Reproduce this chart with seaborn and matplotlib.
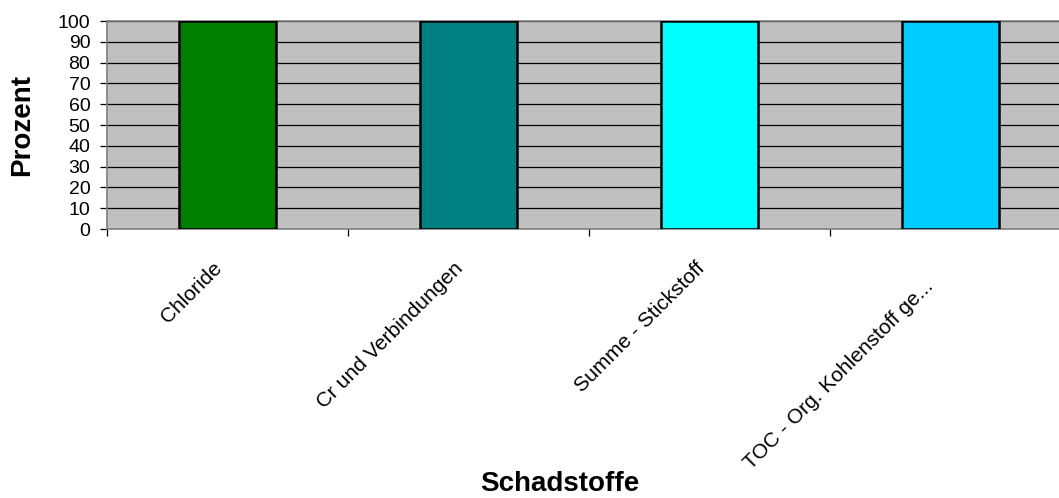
import matplotlib
matplotlib.use("Agg")
import matplotlib.pyplot as plt
from matplotlib.transforms import ScaledTranslation
import seaborn as sns
import pandas as pd

# Pollutant categories and their share in percent
schadstoffe = ["Chloride", "Cr und Verbindungen", "Summe - Stickstoff",
               "TOC - Org. Kohlenstoff ge..."]
prozent = [100, 100, 100, 100]
farben = ["#008000", "#008080", "#00FFFF", "#00CCFF"]
y_ticks = [0, 10, 20, 30, 40, 50, 60, 70, 80, 90, 100]

df = pd.DataFrame({"Schadstoff": schadstoffe, "Prozent": prozent})

sns.set_theme(style="white")
plt.rcParams["font.family"] = ["Liberation Sans", "DejaVu Sans"]
plt.rcParams["text.color"] = "black"
plt.rcParams["xtick.color"] = "black"
plt.rcParams["ytick.color"] = "black"
plt.rcParams["axes.labelcolor"] = "black"

fig = plt.figure(figsize=(10.59, 4.98), dpi=100)
W, H = 1059, 498
# plot area in pixels: left 107, top 21, bottom 229, one category = 241 px
ax = fig.add_axes([107 / W, (H - 229) / H, 4 * 241 / W, 208 / H])
ax.set_facecolor("#C0C0C0")

sns.barplot(data=df, x="Schadstoff", y="Prozent", hue="Schadstoff",
            palette=farben, saturation=1, width=0.4, edgecolor="black",
            linewidth=1.8, legend=False, ax=ax, zorder=3)

ax.set_xlim(-0.5, len(schadstoffe) - 0.5)
ax.set_ylim(0, 100)
ax.set_yticks(y_ticks)
ax.yaxis.grid(True, color="black", linewidth=0.9, zorder=1)
ax.xaxis.grid(False)
ax.set_axisbelow(True)

for side in ("left", "bottom", "top"):
    ax.spines[side].set_visible(True)
    ax.spines[side].set_color("#808080")
    ax.spines[side].set_linewidth(1.2)
ax.spines["right"].set_visible(False)

ax.tick_params(axis="y", which="major", direction="out", length=5,
               width=0.9, color="black", labelsize=14, pad=7, left=True)

# category boundaries carry the tick marks, labels sit at bar centres
ax.set_xticks([i - 0.5 for i in range(len(schadstoffe) + 1)], minor=True)
ax.tick_params(axis="x", which="minor", direction="out", length=5,
               width=0.9, color="black", bottom=True)
ax.tick_params(axis="x", which="major", length=0, pad=26, labelsize=15)
ax.set_xticks(range(len(schadstoffe)))
ax.set_xticklabels(schadstoffe, rotation=45, ha="right",
                   va="center", rotation_mode="anchor")

# fine shifts (in pixels) for the rotated labels
label_shift = [(-8, 0), (-8, 0), (-8, 0), (-20, -18)]
for lab, (dx, dy) in zip(ax.get_xticklabels(), label_shift):
    lab.set_transform(lab.get_transform() +
                      ScaledTranslation(dx / 100, dy / 100, fig.dpi_scale_trans))

ax.set_xlabel("Schadstoffe", fontsize=20, fontweight="bold")
ax.xaxis.set_label_coords((560 - 107) / 964, -(471 - 229) / 208)
ax.set_ylabel("Prozent", fontsize=20, fontweight="bold", labelpad=16)

fig.savefig("out.png", dpi=100)
